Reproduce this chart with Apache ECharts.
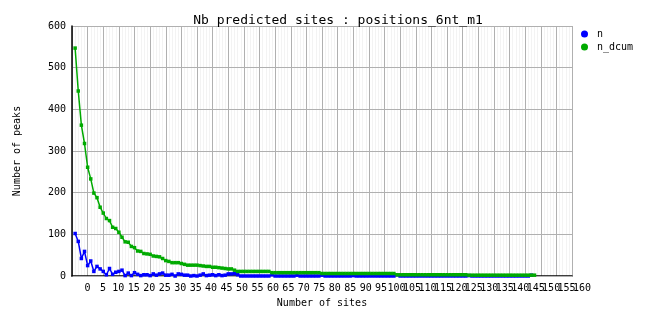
<!DOCTYPE html>
<html>
<head>
<meta charset="utf-8">
<script src="https://cdn.jsdelivr.net/npm/echarts@6/dist/echarts.min.js"></script>
<style>html,body{margin:0;padding:0;background:#fff;}#c{width:662px;height:328px;}</style>
</head>
<body>
<div id="c"></div>
<script>
// Number of sites (x values), starting at -4
var xStart = -4;
// n : number of peaks with exactly x sites (x = -4 .. 142)
var nValues = [
  102, 83, 42, 59,
  25, 36, 11, 23, 17, 11, 3, 18, 4, 9,
  11, 14, 1, 7, 1, 8, 4, 1, 3, 3,
  1, 5, 2, 5, 7, 2, 2, 4, 0, 5,
  4, 2, 2, 0, 1, 0, 2, 5, 1, 2,
  3, 1, 3, 1, 2, 5, 5, 6, 3, 0,
  0, 0, 0, 0, 0, 0, 0, 0, 0, 3,
  0, 0, 0, 0, 0, 0, 0, 2, 0, 0,
  0, 0, 0, 0, 0, 2, 0, 0, 0, 0,
  0, 0, 0, 0, 0, 1, 0, 0, 0, 0,
  0, 0, 0, 0, 0, 0, 0, 0, 0, 3,
  0, 0, 0, 0, 0, 0, 0, 0, 0, 0,
  0, 0, 0, 0, 0, 0, 0, 0, 0, 0,
  0, 0, 1, 0, 0, 0, 0, 0, 0, 0,
  0, 0, 0, 0, 0, 0, 0, 0, 0, 0,
  0, 0, 2
];
// n_dcum : decreasing cumulative number of peaks (x = -4 .. 143)
var nDcumValues = [
  547, 444, 362, 318,
  261, 233, 199, 188, 165, 151, 138, 133, 117, 114,
  105, 93, 82, 81, 71, 68, 60, 59, 54, 53,
  52, 48, 47, 46, 42, 37, 35, 32, 32, 32,
  30, 28, 26, 26, 26, 26, 25, 24, 23, 23,
  21, 21, 20, 19, 18, 17, 17, 14, 11, 11,
  11, 11, 11, 11, 11, 11, 11, 11, 11, 8,
  8, 8, 8, 8, 8, 8, 8, 8, 8, 8,
  8, 8, 8, 8, 8, 6, 6, 6, 6, 6,
  6, 6, 6, 6, 6, 6, 6, 6, 6, 6,
  6, 6, 6, 6, 6, 6, 6, 6, 6, 3,
  3, 3, 3, 3, 3, 3, 3, 3, 3, 3,
  3, 3, 3, 3, 3, 3, 3, 3, 3, 3,
  3, 3, 2, 2, 2, 2, 2, 2, 2, 2,
  2, 2, 2, 2, 2, 2, 2, 2, 2, 2,
  2, 2, 2, 2
];
var xTickLabels = ['0','5','10','15','20','25','30','35','40','45','50','55','60','65','70','75','80','85','90','95','100','105','110','115','120','125','130','135','140','145','150','155','160'];
var yTickLabels = ['0','100','200','300','400','500','600'];
var seriesNames = ['n', 'n_dcum'];

function pairs(arr) {
  return arr.map(function (v, i) { return [xStart + i, v]; });
}

var FONT = 'DejaVu Sans Mono';
var chart = echarts.init(document.getElementById('c'), null, {renderer: 'canvas'});
chart.setOption({
  animation: false,
  backgroundColor: '#ffffff',
  title: {
    text: 'Nb predicted sites : positions_6nt_m1',
    left: 333, top: 9, textAlign: 'center',
    textStyle: {fontFamily: FONT, fontSize: 13, fontWeight: 'normal', color: '#000'}
  },
  legend: {
    orient: 'vertical', left: 581, top: 28, padding: 0,
    itemWidth: 7, itemHeight: 7, itemGap: 1, icon: 'circle',
    textStyle: {fontFamily: FONT, fontSize: 10, color: '#000', lineHeight: 12, padding: [0, 0, 0, 4]},
    data: seriesNames
  },
  grid: [
    {left: 72, top: 26, width: 500, height: 250, containLabel: false},
    {left: 72, top: 26, width: 525.5, height: 250, containLabel: false}
  ],
  xAxis: [
    {
      type: 'value', gridIndex: 0, min: -5, max: 155, interval: 5, z: 0,
      axisLine: {show: true, onZero: false, lineStyle: {color: '#000', width: 1.5}},
      axisTick: {show: false},
      axisLabel: {show: false},
      splitLine: {show: true, lineStyle: {color: '#b0b0b0', width: 1}},
      minorTick: {show: false, splitNumber: 5},
      minorSplitLine: {show: true, lineStyle: {color: '#f3f3f3', width: 1}},
      name: 'Number of sites', nameLocation: 'middle', nameGap: 22,
      nameTextStyle: {fontFamily: FONT, fontSize: 10, color: '#000'}
    },
    {
      type: 'value', gridIndex: 1, min: -5, max: 165, interval: 5,
      axisLine: {show: false}, axisTick: {show: false}, splitLine: {show: false},
      axisLabel: {
        show: true, interval: 0, hideOverlap: false, margin: 7,
        fontFamily: FONT, fontSize: 10, color: '#000',
        formatter: function (v) { var s = String(v); return xTickLabels.indexOf(s) >= 0 ? s : ''; }
      }
    }
  ],
  yAxis: [
    {
      type: 'value', gridIndex: 0, min: 0, max: 600, interval: 100, z: 1,
      axisLine: {show: true, onZero: false, lineStyle: {color: '#000', width: 1.5}},
      axisTick: {show: false},
      axisLabel: {
        show: true, margin: 6, fontFamily: FONT, fontSize: 10, color: '#000',
        padding: [6, 0, 0, 0],
        formatter: function (v) { var s = String(v); return yTickLabels.indexOf(s) >= 0 ? s : ''; }
      },
      splitLine: {show: true, lineStyle: {color: '#b0b0b0', width: 1}},
      name: 'Number of peaks', nameLocation: 'middle', nameGap: 50, nameRotate: 90,
      nameTextStyle: {fontFamily: FONT, fontSize: 10, color: '#000'}
    },
    {
      type: 'value', gridIndex: 1, min: 0, max: 600, show: false
    }
  ],
  series: [
    {
      name: 'n', type: 'line', xAxisIndex: 0, yAxisIndex: 0,
      data: pairs(nValues),
      symbol: 'rect', symbolSize: 3.5, showSymbol: true,
      itemStyle: {color: '#0000ff'},
      lineStyle: {color: '#0000ff', width: 1.5}
    },
    {
      name: 'n_dcum', type: 'line', xAxisIndex: 0, yAxisIndex: 0,
      data: pairs(nDcumValues),
      symbol: 'rect', symbolSize: 3.5, showSymbol: true,
      itemStyle: {color: '#00aa00'},
      lineStyle: {color: '#00aa00', width: 1.5}
    }
  ]
});
</script>
</body>
</html>
